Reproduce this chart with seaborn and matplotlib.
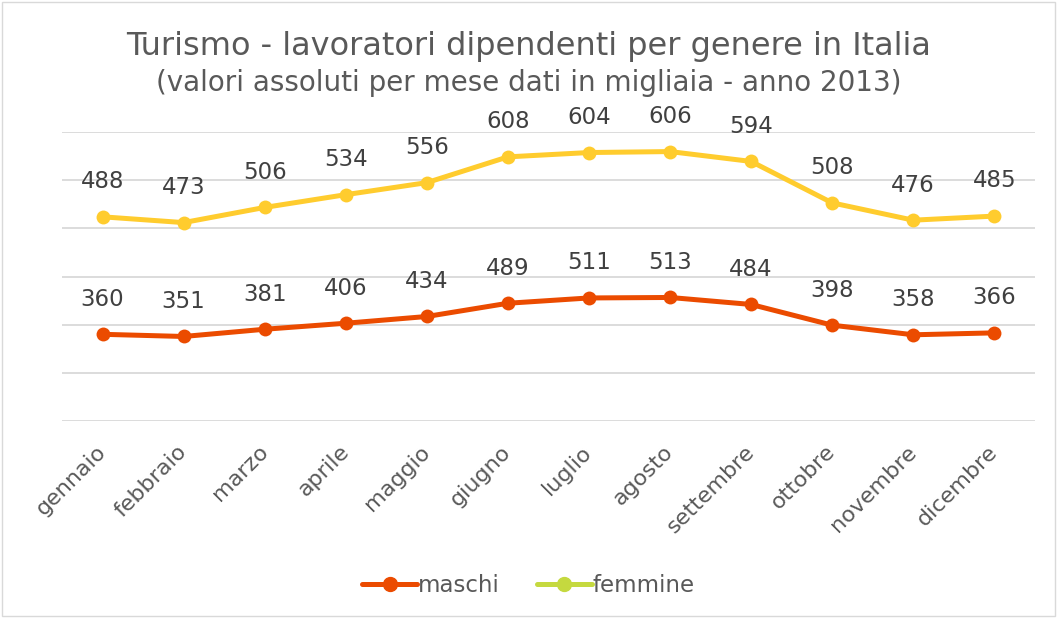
import pandas as pd
import seaborn as sns
import matplotlib.pyplot as plt
from matplotlib.lines import Line2D

mesi = ["gennaio", "febbraio", "marzo", "aprile", "maggio", "giugno",
        "luglio", "agosto", "settembre", "ottobre", "novembre", "dicembre"]
maschi = [360, 351, 381, 406, 434, 489, 511, 513, 484, 398, 358, 366]
femmine = [488, 473, 506, 534, 556, 608, 604, 606, 594, 508, 476, 485]

# grafico a linee in pila: femmine sopra maschi
totale = [m + f for m, f in zip(maschi, femmine)]
df = pd.DataFrame({"mese": mesi * 2,
                   "valore": maschi + totale,
                   "serie": ["maschi"] * 12 + ["femmine"] * 12})

sns.set_theme(style="white")
plt.rcParams['font.family'] = ['DejaVu Sans']

fig = plt.figure(figsize=(10.57, 6.18), dpi=100)
ax = fig.add_axes([0.0587, 0.3188, 0.9203, 0.4675])

colori = {"maschi": "#EB4B00", "femmine": "#FFCC2E"}
sns.lineplot(data=df, x="mese", y="valore", hue="serie", palette=colori,
             marker="o", markersize=10, markeredgewidth=0, linewidth=3.6,
             sort=False, legend=False, ax=ax)

ax.set_ylim(0, 1200)
ax.set_xlim(-0.5, 11.5)
ax.set_yticks(range(0, 1201, 200))
ax.set_yticklabels([])
ax.yaxis.grid(True, color="#D9D9D9", linewidth=1.3)
ax.tick_params(axis="y", length=0)
ax.tick_params(axis="x", length=0, pad=20)
for s in ax.spines.values():
    s.set_visible(False)
ax.set_xlabel("")
ax.set_ylabel("")
ax.set_xticks(range(12))
ax.set_xticklabels(mesi, rotation=45, ha="right", va="center",
                   rotation_mode="anchor", fontsize=16, color="#595959")

# etichette dei valori
for i in range(12):
    ax.annotate(str(maschi[i]), (i, maschi[i]), xytext=(0, 17),
                textcoords="offset points", ha="center", va="bottom",
                fontsize=16.5, color="#404040")
    ax.annotate(str(femmine[i]), (i, totale[i]), xytext=(0, 17),
                textcoords="offset points", ha="center", va="bottom",
                fontsize=16.5, color="#404040")

fig.text(0.5, 0.924, "Turismo - lavoratori dipendenti per genere in Italia",
         ha="center", va="center", fontsize=23, color="#595959")
fig.text(0.5, 0.866, "(valori assoluti per mese dati in migliaia - anno 2013)",
         ha="center", va="center", fontsize=20, color="#595959")

handles = [Line2D([], [], color="#EB4B00", lw=3.6, marker="o", markersize=10),
           Line2D([], [], color="#C5D93F", lw=3.6, marker="o", markersize=10)]
fig.legend(handles, ["maschi", "femmine"], loc="center", ncol=2,
           bbox_to_anchor=(0.5, 0.053), frameon=False, fontsize=16.5,
           labelcolor="#595959", handlelength=2.4, handletextpad=0.05,
           columnspacing=1.6)

fig.patches.append(plt.Rectangle((0.002, 0.003), 0.996, 0.994,
                                 transform=fig.transFigure, fill=False,
                                 edgecolor="#D9D9D9", linewidth=1))

fig.savefig("out.png", dpi=100)
